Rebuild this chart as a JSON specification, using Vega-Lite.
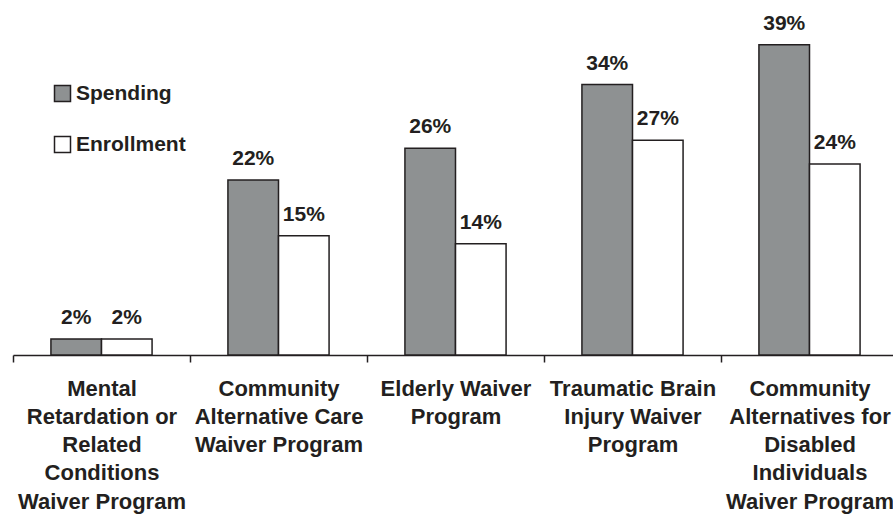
{
  "$schema": "https://vega.github.io/schema/vega-lite/v6.json",
  "width": 885,
  "height": 350,
  "autosize": {"type": "none"},
  "padding": {"left": 13, "top": 5, "right": 0, "bottom": 160},
  "background": "white",
  "config": {
    "view": {"stroke": null},
    "font": "Liberation Sans",
    "text": {"font": "Liberation Sans"}
  },
  "data": {
    "values": [
      {"program": "Mental Retardation or Related Conditions Waiver Program", "measure": "Spending", "pct": 2},
      {"program": "Mental Retardation or Related Conditions Waiver Program", "measure": "Enrollment", "pct": 2},
      {"program": "Community Alternative Care Waiver Program", "measure": "Spending", "pct": 22},
      {"program": "Community Alternative Care Waiver Program", "measure": "Enrollment", "pct": 15},
      {"program": "Elderly Waiver Program", "measure": "Spending", "pct": 26},
      {"program": "Elderly Waiver Program", "measure": "Enrollment", "pct": 14},
      {"program": "Traumatic Brain Injury Waiver Program", "measure": "Spending", "pct": 34},
      {"program": "Traumatic Brain Injury Waiver Program", "measure": "Enrollment", "pct": 27},
      {"program": "Community Alternatives for Disabled Individuals Waiver Program", "measure": "Spending", "pct": 39},
      {"program": "Community Alternatives for Disabled Individuals Waiver Program", "measure": "Enrollment", "pct": 24}
    ]
  },
  "transform": [{"calculate": "datum.pct + '%'", "as": "pctLabel"}],
  "encoding": {
    "x": {
      "field": "program",
      "type": "nominal",
      "sort": null,
      "scale": {"paddingInner": 0, "paddingOuter": 0},
      "axis": {
        "title": null,
        "labelAngle": 0,
        "tickBand": "extent",
        "tickSize": 7,
        "tickColor": "#231f20",
        "tickWidth": 1.5,
        "domainColor": "#231f20",
        "domainWidth": 1.5,
        "labelFont": "Liberation Sans",
        "labelFontSize": 22,
        "labelFontWeight": "bold",
        "labelColor": "#231f20",
        "labelLineHeight": 28.3,
        "labelPadding": 16,
        "labelBaseline": "top",
        "labelLimit": 0,
        "labelOverlap": false,
        "labelExpr": "datum.label == 'Mental Retardation or Related Conditions Waiver Program' ? ['Mental', 'Retardation or', 'Related', 'Conditions', 'Waiver Program'] : datum.label == 'Community Alternative Care Waiver Program' ? ['Community', 'Alternative Care', 'Waiver Program'] : datum.label == 'Elderly Waiver Program' ? ['Elderly Waiver', 'Program'] : datum.label == 'Traumatic Brain Injury Waiver Program' ? ['Traumatic Brain', 'Injury Waiver', 'Program'] : datum.label == 'Community Alternatives for Disabled Individuals Waiver Program' ? ['Community', 'Alternatives for', 'Disabled', 'Individuals', 'Waiver Program'] : ''"
      }
    },
    "xOffset": {
      "field": "measure",
      "type": "nominal",
      "sort": ["Spending", "Enrollment"],
      "scale": {"paddingInner": 0, "paddingOuter": 0.75}
    },
    "y": {
      "field": "pct",
      "type": "quantitative",
      "scale": {"domain": [0, 44], "nice": false},
      "axis": null
    }
  },
  "layer": [
    {
      "mark": {"type": "bar", "stroke": "#231f20", "strokeWidth": 1.5},
      "encoding": {
        "color": {
          "field": "measure",
          "type": "nominal",
          "scale": {"domain": ["Spending", "Enrollment"], "range": ["#8e9192", "#ffffff"]},
          "legend": {
            "title": null,
            "orient": "none",
            "legendX": 39,
            "legendY": 78,
            "symbolType": "square",
            "symbolSize": 256,
            "symbolStrokeColor": "#231f20",
            "symbolStrokeWidth": 1.5,
            "labelFont": "Liberation Sans",
            "labelFontSize": 21,
            "labelFontWeight": "bold",
            "labelColor": "#231f20",
            "labelOffset": 3,
            "rowPadding": 28
          }
        }
      }
    },
    {
      "mark": {"type": "text", "baseline": "alphabetic", "dy": -15, "fontSize": 21, "fontWeight": "bold", "color": "#231f20", "font": "Liberation Sans"},
      "encoding": {
        "text": {"field": "pctLabel", "type": "nominal"},
        "detail": {"field": "measure"}
      }
    }
  ]
}
